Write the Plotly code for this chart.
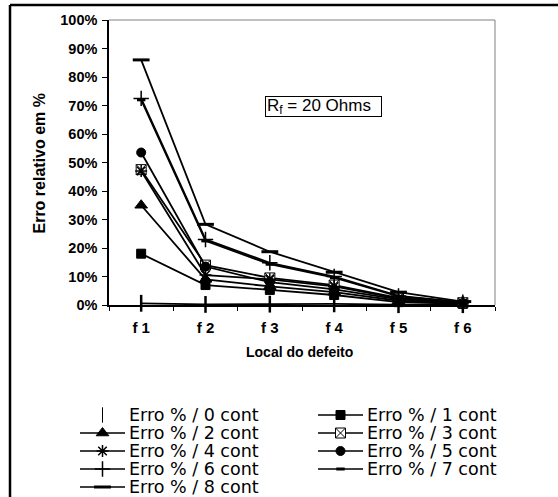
import plotly.graph_objects as go

# ---------------- data ----------------
categories = ["f 1", "f 2", "f 3", "f 4", "f 5", "f 6"]
series_names = ["Erro % / 0 cont", "Erro % / 1 cont", "Erro % / 2 cont",
                "Erro % / 3 cont", "Erro % / 4 cont", "Erro % / 5 cont",
                "Erro % / 6 cont", "Erro % / 7 cont", "Erro % / 8 cont"]
erro_0 = [0.6, 0.2, 0.3, 0.4, 0.1, 0.1]
erro_1 = [18.0, 7.0, 5.3, 3.5, 1.0, 0.4]
erro_2 = [35.0, 9.0, 6.5, 4.5, 1.5, 0.5]
erro_3 = [47.5, 14.0, 9.5, 7.0, 2.5, 0.8]
erro_4 = [47.0, 10.5, 9.0, 6.5, 2.2, 0.7]
erro_5 = [53.5, 13.5, 8.0, 5.5, 2.0, 0.7]
erro_6 = [72.5, 23.0, 14.8, 10.0, 3.2, 1.0]
erro_7 = [72.0, 22.5, 14.3, 9.6, 3.0, 0.9]
erro_8 = [86.0, 28.3, 18.7, 11.5, 4.5, 1.2]
y_tick_values = [0, 10, 20, 30, 40, 50, 60, 70, 80, 90, 100]
y_tick_labels = ["0%", "10%", "20%", "30%", "40%", "50%", "60%", "70%", "80%", "90%", "100%"]
annotation_text = "R<sub>f</sub> = 20 Ohms"
x_title = "Local do defeito"
y_title = "Erro relativo em %"

all_series = [erro_0, erro_1, erro_2, erro_3, erro_4, erro_5, erro_6, erro_7, erro_8]

# ---------------- styles ----------------
W, H = 558, 497
PL, PR, PT, PB = 109, 495, 20, 305   # plot area in pixels
FONT = "Arial, Liberation Sans, sans-serif"

def px(x):
    return x / W

def py(y):
    return 1 - y / H

markers = [
    dict(symbol="line-ns-open", size=12, color="black", line=dict(color="black", width=2.5)),
    dict(symbol="square", size=9, color="black", line=dict(color="black", width=1)),
    dict(symbol="triangle-up", size=11, color="black", line=dict(color="black", width=1)),
    dict(symbol="square-x", size=10, color="white", line=dict(color="black", width=1)),
    dict(symbol="asterisk-open", size=10, color="black", line=dict(color="black", width=1.5)),
    dict(symbol="circle", size=9, color="black", line=dict(color="black", width=1)),
    dict(symbol="cross-thin-open", size=11, color="black", line=dict(color="black", width=1.5)),
    dict(symbol="line-ew-open", size=6, color="black", line=dict(color="black", width=3)),
    dict(symbol="line-ew-open", size=12, color="black", line=dict(color="black", width=3)),
]

fig = go.Figure()

for name, vals, mk in zip(series_names, all_series, markers):
    fig.add_trace(go.Scatter(
        x=categories, y=vals, name=name, mode="lines+markers",
        line=dict(color="black", width=1.8), marker=mk,
        showlegend=False, xaxis="x", yaxis="y", cliponaxis=False,
    ))

# ---------------- custom legend (two columns) ----------------
col_x = [80, 318]
key_len = 45
row_y0 = 415
row_step = 18
annotations = []
for i, (name, mk) in enumerate(zip(series_names, markers)):
    c, r = i % 2, i // 2
    x0 = col_x[c]
    x1 = x0 + key_len
    yy = row_y0 + r * row_step
    if i != 0:
        fig.add_trace(go.Scatter(x=[x0, x1], y=[yy, yy], mode="lines",
                                 line=dict(color="black", width=1.6),
                                 showlegend=False, hoverinfo="skip",
                                 xaxis="x2", yaxis="y2"))
    lm = dict(mk)
    if i == 0:
        lm = dict(symbol="line-ns-open", size=11, color="black", line=dict(color="black", width=1))
    fig.add_trace(go.Scatter(x=[(x0 + x1) / 2], y=[yy], mode="markers", marker=lm,
                             showlegend=False, hoverinfo="skip",
                             xaxis="x2", yaxis="y2"))
    annotations.append(dict(x=x1 + 2, y=yy, xref="x2", yref="y2", text=name,
                            showarrow=False, xanchor="left", yanchor="middle",
                            font=dict(family="DejaVu Sans, sans-serif", size=17.5, color="black")))

# text box
annotations.append(dict(x=px((264 + 383) / 2), y=py(106.5), xref="paper", yref="paper",
                        text=annotation_text, showarrow=False,
                        xanchor="center", yanchor="middle",
                        font=dict(family=FONT, size=17, color="black"),
                        bordercolor="black", borderwidth=1, bgcolor="white",
                        width=113, height=17, align="left", borderpad=1))
# axis titles
annotations.append(dict(x=px((PL + PR) / 2 - 3), y=py(352), xref="paper", yref="paper",
                        text=x_title, showarrow=False, xanchor="center", yanchor="middle",
                        font=dict(family=FONT, size=14, color="black", weight="bold")))
annotations.append(dict(x=px(39), y=py((PT + PB) / 2), xref="paper", yref="paper",
                        text=y_title, showarrow=False, textangle=-90,
                        xanchor="center", yanchor="middle",
                        font=dict(family=FONT, size=16, color="black", weight="bold")))

shapes = [
    # outer frame (top and left)
    dict(type="line", xref="paper", yref="paper", x0=px(10), x1=px(W + 5), y0=py(5), y1=py(5),
         line=dict(color="black", width=2.5)),
    dict(type="line", xref="paper", yref="paper", x0=px(10), x1=px(10), y0=py(5), y1=py(H + 5),
         line=dict(color="black", width=2.5)),
    # plot area border top and right (gray)
    dict(type="line", xref="paper", yref="paper", x0=px(PL), x1=px(PR), y0=py(PT), y1=py(PT),
         line=dict(color="#808080", width=1)),
    dict(type="line", xref="paper", yref="paper", x0=px(PR), x1=px(PR), y0=py(PT), y1=py(PB),
         line=dict(color="#808080", width=1)),
]

fig.update_layout(
    width=W, height=H,
    margin=dict(l=0, r=0, t=0, b=0),
    paper_bgcolor="white", plot_bgcolor="rgba(0,0,0,0)",
    showlegend=False,
    font=dict(family=FONT, color="black"),
    xaxis=dict(domain=[px(PL), px(PR)], anchor="y", type="category",
               categoryorder="array", categoryarray=categories,
               range=[-0.5, 5.5], showline=True, linecolor="black", linewidth=1.5,
               ticks="outside", tickson="boundaries", ticklen=4, tickcolor="black",
               tickwidth=1, showgrid=False, zeroline=False, ticklabelstandoff=8,
               tickfont=dict(family=FONT, size=15, color="black", weight="bold"),
               automargin=False, fixedrange=True),
    yaxis=dict(domain=[py(PB), py(PT)], anchor="x", range=[0, 100],
               tickmode="array", tickvals=y_tick_values, ticktext=y_tick_labels,
               showline=True, linecolor="black", linewidth=1.5,
               ticks="outside", ticklen=5, tickcolor="black", tickwidth=1,
               showgrid=False, zeroline=False, ticklabelstandoff=2,
               tickfont=dict(family=FONT, size=14.5, color="black", weight="bold"),
               automargin=False, fixedrange=True),
    xaxis2=dict(domain=[0, 1], anchor="y2", range=[0, W], visible=False, fixedrange=True),
    yaxis2=dict(domain=[0, 1], anchor="x2", range=[H, 0], visible=False, fixedrange=True),
    annotations=annotations,
    shapes=shapes,
)

fig.write_html("out.html")
